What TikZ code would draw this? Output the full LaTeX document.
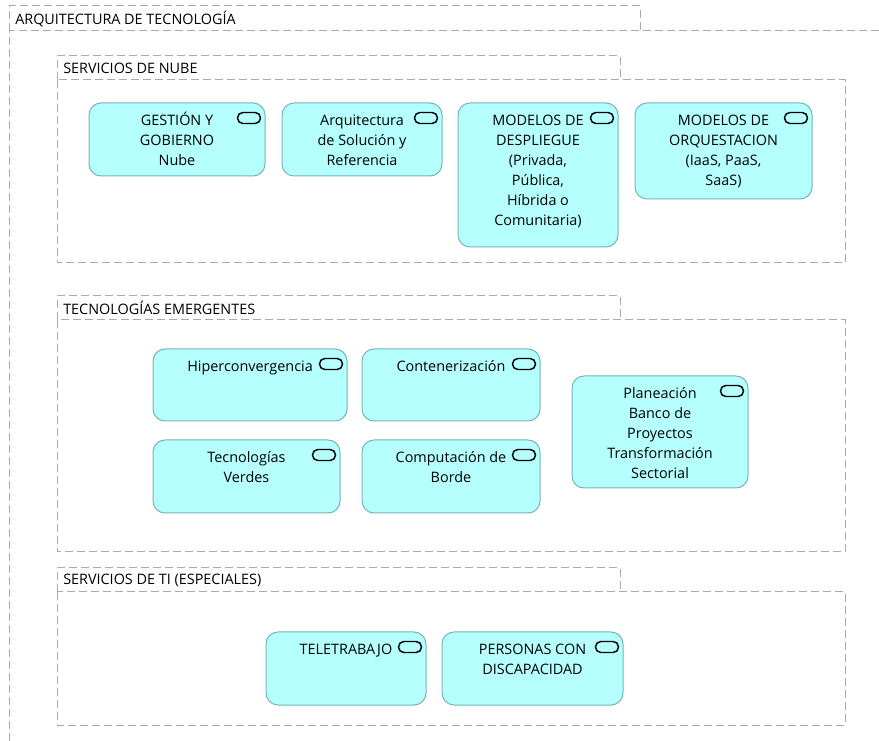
\documentclass[tikz,border=0pt]{standalone}
\usepackage{fontspec}
\setmainfont{Open Sans}
\usepackage{tikz}
\usetikzlibrary{calc, fit}
\definecolor{svcfill}{RGB}{181,255,255}
\definecolor{svcline}{RGB}{120,180,180}
\definecolor{grpline}{RGB}{170,170,170}

\begin{document}
\begin{tikzpicture}[x=0.75pt, y=-0.75pt,
  grp/.style={draw=grpline, dash pattern=on 6pt off 3pt, line width=0.75pt},
  grplabel/.style={anchor=west, inner sep=0pt, font=\fontsize{10.8}{15}\selectfont},
  svcbox/.style={draw=svcline, fill=svcfill, rounded corners=9pt, line width=0.75pt, inner sep=0pt},
  svctext/.style={anchor=north, inner sep=0pt, align=center, font=\fontsize{10.8}{15}\selectfont},
  svcicon/.style={draw=black, line width=1.1pt, rounded corners=4pt}]
\useasboundingbox (0,0) rectangle (879,741);

\draw[grp] (9,31) -- (9,6) -- (640,6) -- (640,31);
\draw[grp] (879,31) -- (9,31) -- (9,741);
\node[grplabel] (Garq) at (15,19) {ARQUITECTURA DE TECNOLOGÍA};

\foreach \name/\ya/\yb/\txt in {Gnube/56/263/{SERVICIOS DE NUBE}, Gemerg/296/552/{TECNOLOGÍAS EMERGENTES}, Gespec/568/725/{SERVICIOS DE TI (ESPECIALES)}}
{
\draw[grp] (57,\ya+24) -- (57,\ya) -- (620,\ya) -- (620,\ya+24);
\draw[grp] (57,\ya+24) rectangle (845,\yb);
\node[grplabel] (\name) at (63,\ya+12) {\txt};
}

\foreach \name/\xa/\ya/\xb/\yb/\txt in {
  Sgestion/89/103/265/176/{GESTIÓN Y\\GOBIERNO\\Nube},
  Sarq/282/103/442/176/{Arquitectura\\de Solución y\\Referencia},
  Sdespl/458/103/618/247/{MODELOS DE\\DESPLIEGUE\\(Privada,\\Pública,\\Híbrida o\\Comunitaria)},
  Sorq/635/103/812/199/{MODELOS DE\\ORQUESTACION\\(IaaS, PaaS,\\SaaS)},
  Shiper/153/349/347/421/{Hiperconvergencia},
  Sconten/362/349/540/421/{Contenerización},
  Sverdes/153/440/340/513/{Tecnologías\\Verdes},
  Sborde/362/440/540/513/{Computación de\\Borde},
  Splan/572/376/748/488/{Planeación\\Banco de\\Proyectos\\Transformación\\Sectorial},
  Stele/266/632/426/705/{TELETRABAJO},
  Spers/442/632/623/705/{PERSONAS CON\\DISCAPACIDAD}}
{
\node[svcbox, fit={(\xa,\ya) (\xb,\yb)}] (\name) {};
\draw[svcicon] ($(\name.north east)+(-28,10)$) rectangle ++(23,11);
\node[svctext] (\name-txt) at ($(\name.north)+(0,9)$) {\strut\txt};
}
\end{tikzpicture}
\end{document}
